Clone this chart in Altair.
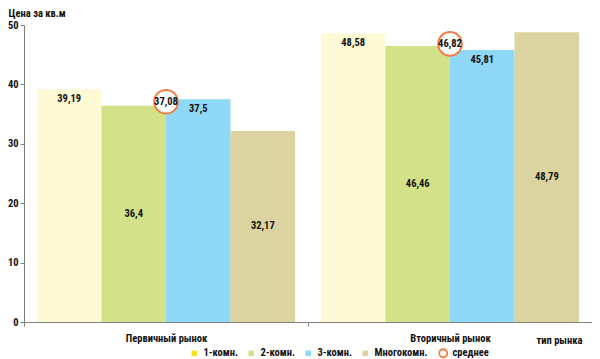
import altair as alt
import pandas as pd

groups = ['Первичный рынок', 'Вторичный рынок']
series = ['1-комн.', '2-комн.', '3-комн.', 'Многокомн.']
primary_values = [39.19, 36.4, 37.5, 32.17]
secondary_values = [48.58, 46.46, 45.81, 48.79]
mean_values = [37.08, 46.82]
mean_name = 'среднее'
label_at_top = [True, False, True, False]
y_ticks = [0, 10, 20, 30, 40, 50]

bar_colors = ['#FEFAD6', '#D3E288', '#8FD8F8', '#DCD4A0']
legend_colors = ['#F7E11B', '#D3E288', '#8FD8F8', '#DCD4A0']

rows = []
for g, vals in zip(groups, [primary_values, secondary_values]):
    for s, v, top in zip(series, vals, label_at_top):
        rows.append(dict(group=g, series=s, value=v, top=top))
bars_df = pd.DataFrame(rows)
mean_df = pd.DataFrame({'group': groups, 'value': mean_values,
                        'kind': [mean_name] * len(groups)})
legend_df = pd.DataFrame({'item': series})

FONT = "Roboto Condensed, Liberation Sans Narrow, Roboto, sans-serif"
FS = 10.5
ORANGE = '#F47C42'

x_enc = alt.X(
    'group:N', sort=groups,
    scale=alt.Scale(paddingInner=0, paddingOuter=0),
    axis=alt.Axis(
        title='тип рынка', labelAngle=0, tickBand='extent', tickSize=4,
        labelPadding=12, labelBaseline='middle',
        labelFont=FONT, labelFontSize=FS, labelFontWeight='bold', labelColor='#111',
        titleFont=FONT, titleFontSize=FS, titleFontWeight='bold', titleColor='#111',
        titleX=535, titleY=18, titleAlign='center', titleBaseline='middle',
        domainColor='#808080', tickColor='#808080',
    ),
)
y_scale = alt.Scale(domain=[0, 50], nice=False)
y_axis = alt.Axis(
    title='Цена за кв.м', values=y_ticks, grid=False, tickSize=4,
    labelFont=FONT, labelFontSize=FS, labelFontWeight='bold', labelColor='#111',
    titleFont=FONT, titleFontSize=FS, titleFontWeight='bold', titleColor='#111',
    titleAngle=0, titleAlign='left', titleBaseline='alphabetic', titleX=-16, titleY=-9,
    domainColor='#808080', tickColor='#808080', labelPadding=2,
)
xoff = alt.XOffset('series:N', sort=series,
                   scale=alt.Scale(paddingInner=0, paddingOuter=0.2))

base = alt.Chart(bars_df)

bars = base.mark_bar().encode(
    x=x_enc,
    xOffset=xoff,
    y=alt.Y('value:Q', scale=y_scale, axis=y_axis),
    color=alt.Color('series:N', sort=series,
                    scale=alt.Scale(domain=series, range=bar_colors), legend=None),
)

text_style = dict(font=FONT, fontSize=FS, fontWeight='bold', color='#111')

top_labels = base.transform_filter('datum.top').transform_calculate(
    label="replace(toString(datum.value), '.', ',')"
).mark_text(baseline='middle', dy=10, **text_style).encode(
    x=x_enc, xOffset=xoff,
    y=alt.Y('value:Q', scale=y_scale, axis=y_axis),
    text='label:N',
)

mid_labels = base.transform_filter('!datum.top').transform_calculate(
    label="replace(toString(datum.value), '.', ',')",
    mid='datum.value / 2',
).mark_text(baseline='middle', **text_style).encode(
    x=x_enc, xOffset=xoff,
    y=alt.Y('mid:Q', scale=y_scale, axis=y_axis),
    text='label:N',
)

legend_common = dict(
    orient='none', direction='horizontal', padding=0, labelOffset=4,
    labelFont=FONT, labelFontSize=FS, labelFontWeight='bold', labelColor='#111',
    title=None,
)

means = alt.Chart(mean_df).mark_point(
    shape='circle', size=560, filled=True, fill='white',
    strokeWidth=2, opacity=1,
).encode(
    x=x_enc,
    y=alt.Y('value:Q', scale=y_scale, axis=y_axis),
    stroke=alt.Stroke('kind:N', scale=alt.Scale(domain=[mean_name], range=[ORANGE]),
                      legend=alt.Legend(legendX=414, legendY=323, symbolType='circle',
                                        symbolSize=64, symbolStrokeWidth=1.8,
                                        symbolFillColor='white', **legend_common)),
)

mean_text = alt.Chart(mean_df).transform_calculate(
    label="replace(toString(datum.value), '.', ',')"
).mark_text(baseline='middle', **text_style).encode(
    x=x_enc,
    y=alt.Y('value:Q', scale=y_scale, axis=y_axis),
    text='label:N',
)

legend_layer = alt.Chart(legend_df).mark_square(opacity=0).encode(
    color=alt.Color('item:N', sort=series,
                    scale=alt.Scale(domain=series, range=legend_colors),
                    legend=alt.Legend(legendX=165, legendY=323, columns=4,
                                      columnPadding=7, symbolType='square',
                                      symbolSize=30, symbolOpacity=1,
                                      **legend_common)),
)

chart = alt.layer(
    bars, top_labels, mid_labels, means, mean_text, legend_layer
).resolve_scale(color='independent').properties(
    width=568, height=297,
    autosize=alt.AutoSizeParams(type='none'),
    padding={'left': 16, 'top': 17, 'right': 0, 'bottom': 37},
    background='white',
).configure_view(stroke=None)

chart.save("out.html", embed_options={"renderer": "svg", "actions": False})
